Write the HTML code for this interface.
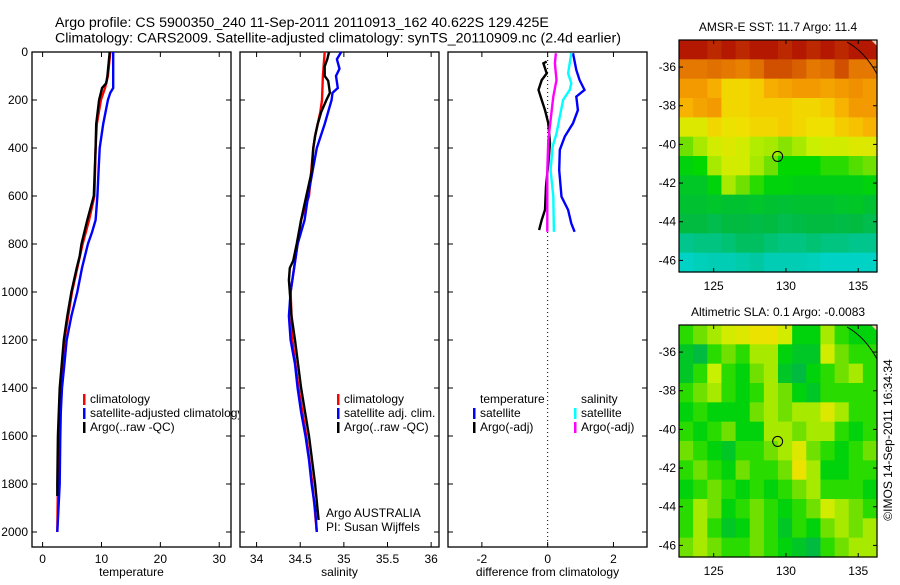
<!DOCTYPE html>
<html><head><meta charset="utf-8"><style>
body{margin:0;background:#fff}
svg text{font-family:"Liberation Sans",sans-serif;fill:#000}
</style></head><body>
<svg id="fig" width="900" height="580" xmlns="http://www.w3.org/2000/svg">
<defs><clipPath id="clipP1"><rect x="0" y="0" width="239" height="580"/></clipPath></defs>
<text x="55" y="27" font-size="14.2">Argo profile: CS 5900350_240 11-Sep-2011 20110913_162 40.622S 129.425E</text>
<text x="55" y="42.5" font-size="14.2">Climatology: CARS2009. Satellite-adjusted climatology: synTS_20110909.nc (2.4d earlier)</text>
<g id="maps"></g>
<g id="panels"></g>
<text transform="translate(892,440) rotate(-90)" text-anchor="middle" font-size="12">©IMOS 14-Sep-2011 16:34:34</text>
</svg>
<script>
// ---------- data ----------
const tempBlueD=[0,150,170,200,300,400,500,600,700,750,800,900,1000,1100,1200,1300,1400,1500,1600,1800,2000];
const tempBlueV=[12.0,12.0,11.5,11.1,10.3,9.7,9.5,9.3,9.0,8.4,7.7,6.7,5.9,4.9,4.1,3.7,3.3,3.1,3.0,2.9,2.5];
const tempRedD=[0,100,150,200,300,400,500,600,700,800,900,1000,1200,1400,1600,1800,2000];
const tempRedV=[11.5,11.1,10.6,9.9,9.2,9.0,8.9,8.8,7.9,6.8,5.9,5.0,3.7,3.0,2.7,2.6,2.5];
const tempBlackD=[0,100,130,150,200,300,400,600,700,800,850,900,1000,1100,1200,1400,1600,1800,1850];
const tempBlackV=[11.4,11.0,10.8,10.1,9.6,9.1,9.0,8.7,7.6,6.6,6.3,5.8,4.9,4.2,3.6,2.9,2.6,2.5,2.5];

const salBlueD=[0,30,70,100,150,170,200,300,400,500,600,700,800,900,1000,1100,1200,1300,1400,1500,1600,1700,1800,1900,2000];
const salBlueV=[34.97,34.92,34.95,34.91,34.93,34.87,34.86,34.78,34.69,34.64,34.59,34.55,34.47,34.43,34.39,34.37,34.39,34.44,34.47,34.51,34.56,34.60,34.63,34.67,34.69];
const salRedD=[0,100,200,250,350,400,600,700,800,900,1000,1200,1400,1600,1800,2000];
const salRedV=[34.78,34.76,34.75,34.73,34.67,34.65,34.60,34.51,34.47,34.43,34.39,34.41,34.48,34.57,34.64,34.69];
const salBlackD=[0,30,60,100,120,170,200,250,300,350,400,500,600,700,800,870,900,950,1000,1100,1200,1400,1600,1800,1950];
const salBlackV=[34.83,34.81,34.78,34.78,34.82,34.84,34.80,34.74,34.70,34.67,34.65,34.63,34.57,34.51,34.46,34.42,34.38,34.37,34.38,34.40,34.44,34.51,34.60,34.67,34.71];

const diffTSatD=[5,75,117,158,186,242,297,352,408,492,603,658,714,749];
const diffTSatV=[0.77,0.87,0.97,1.12,0.87,0.92,0.77,0.52,0.37,0.35,0.42,0.62,0.72,0.82];
const diffSSatD=[5,47,89,130,158,200,269,339,394,492,603,749];
const diffSSatV=[0.72,0.67,0.62,0.72,0.67,0.47,0.37,0.27,0.15,0.09,0.17,0.19];
const diffTArgoD=[40,47,89,117,158,200,242,297,381,464,561,658,700,742];
const diffTArgoV=[-0.03,-0.13,-0.03,-0.18,-0.28,-0.18,-0.08,0.02,0.07,0.02,-0.05,-0.08,-0.18,-0.26];
const diffSArgoD=[5,47,117,186,269,367,492,603,749];
const diffSArgoV=[0.25,0.22,0.27,0.17,0.10,0.02,-0.01,-0.01,-0.01];

const depthTicks=[0,200,400,600,800,1000,1200,1400,1600,1800,2000];
const tempTicks=[0,10,20,30];
const salTicks=[34,34.5,35,35.5,36];
const diffTicks=[-2,0,2];
const latTicks=[-36,-38,-40,-42,-44,-46];
const lonTicks=[125,130,135];

const sstGrid=[
[0.97,0.97,0.95,0.97,0.95,0.97,0.97,0.95,0.97,0.95,0.97,0.95,0.97,0.97],
[0.85,0.85,0.86,0.85,0.84,0.86,0.9,0.9,0.88,0.85,0.86,0.9,0.85,0.85],
[0.8,0.8,0.76,0.68,0.68,0.7,0.76,0.78,0.8,0.8,0.78,0.8,0.82,0.8],
[0.75,0.78,0.8,0.68,0.68,0.7,0.7,0.7,0.68,0.68,0.7,0.75,0.8,0.8],
[0.62,0.62,0.68,0.65,0.66,0.68,0.68,0.7,0.68,0.66,0.66,0.7,0.72,0.75],
[0.5,0.55,0.6,0.62,0.6,0.56,0.55,0.52,0.55,0.58,0.6,0.6,0.62,0.62],
[0.4,0.42,0.55,0.6,0.6,0.55,0.5,0.42,0.42,0.42,0.45,0.45,0.48,0.5],
[0.35,0.35,0.4,0.55,0.5,0.45,0.4,0.4,0.38,0.38,0.38,0.38,0.38,0.4],
[0.33,0.33,0.34,0.33,0.33,0.34,0.33,0.32,0.33,0.33,0.33,0.34,0.35,0.33],
[0.3,0.3,0.28,0.3,0.3,0.29,0.3,0.28,0.29,0.3,0.3,0.29,0.3,0.28],
[0.18,0.2,0.2,0.22,0.25,0.25,0.22,0.2,0.2,0.22,0.2,0.2,0.18,0.18],
[0.05,0.08,0.1,0.1,0.12,0.15,0.1,0.1,0.1,0.08,0.05,0.05,0.05,0.05]];
const slaGrid=[
[0.45,0.5,0.55,0.6,0.62,0.65,0.65,0.6,0.4,0.4,0.55,0.45,0.4,0.4],
[0.35,0.3,0.45,0.5,0.45,0.55,0.55,0.4,0.35,0.35,0.6,0.5,0.45,0.45],
[0.35,0.45,0.58,0.45,0.4,0.5,0.55,0.35,0.3,0.4,0.45,0.5,0.55,0.45],
[0.45,0.5,0.55,0.45,0.4,0.45,0.55,0.5,0.4,0.35,0.45,0.45,0.45,0.45],
[0.4,0.45,0.4,0.4,0.4,0.5,0.55,0.5,0.55,0.55,0.62,0.55,0.45,0.45],
[0.45,0.4,0.45,0.5,0.4,0.4,0.55,0.55,0.5,0.55,0.55,0.45,0.4,0.45],
[0.5,0.45,0.4,0.35,0.45,0.45,0.5,0.55,0.62,0.5,0.45,0.4,0.45,0.5],
[0.45,0.5,0.45,0.4,0.5,0.45,0.45,0.5,0.65,0.55,0.4,0.4,0.45,0.45],
[0.4,0.45,0.5,0.45,0.4,0.45,0.4,0.45,0.5,0.55,0.45,0.45,0.45,0.4],
[0.45,0.55,0.5,0.4,0.45,0.5,0.45,0.4,0.45,0.5,0.6,0.55,0.5,0.45],
[0.45,0.55,0.45,0.35,0.4,0.5,0.45,0.35,0.45,0.4,0.5,0.55,0.5,0.55],
[0.5,0.55,0.5,0.45,0.45,0.5,0.45,0.4,0.35,0.3,0.45,0.5,0.55,0.55]];
const argoLon=129.425, argoLat=-40.622;

// ---------- helpers ----------
const NS="http://www.w3.org/2000/svg";
function mk(tag,attrs,parent){const e=document.createElementNS(NS,tag);for(const k in attrs)e.setAttribute(k,attrs[k]);parent.appendChild(e);return e;}
const panelsG=document.getElementById('panels');
const mapsG=document.getElementById('maps');
const PT=52,PB=547;
const yDepth=d=>52+0.24*d;

function panel(name,x0,x1,xmin,xmax,ticks,label,showY){
  const g=mk('g',{},panelsG);
  
  
  const sx=v=>x0+(v-xmin)/(xmax-xmin)*(x1-x0);
  const fr=mk('rect',{x:x0,y:PT,width:x1-x0,height:PB-PT,fill:'none',stroke:'#000','stroke-width':1.3},g);
  
  
  ticks.forEach(t=>{const x=sx(t);
    mk('line',{x1:x,y1:PB,x2:x,y2:PB-5,stroke:'#000'},g);
    mk('line',{x1:x,y1:PT,x2:x,y2:PT+5,stroke:'#000'},g);
    const tl=mk('text',{x:x,y:PB+16,'text-anchor':'middle','font-size':12},g);tl.textContent=t;
    
    
  });
  depthTicks.forEach(d=>{const y=yDepth(d);
    mk('line',{x1:x0,y1:y,x2:x0+5,y2:y,stroke:'#000'},g);
    mk('line',{x1:x1,y1:y,x2:x1-5,y2:y,stroke:'#000'},g);
    if(showY){const tl=mk('text',{x:x0-4,y:y+4,'text-anchor':'end','font-size':12},g);tl.textContent=d;
      
      }
  });
  const xl=mk('text',{x:(x0+x1)/2,y:PB+29,'text-anchor':'middle','font-size':12},g);xl.textContent=label;
  
  
  return {g,sx};
}
function series(p,name,D,V,color){
  let d='';D.forEach((dd,i)=>{d+=(i?'L':'M')+p.sx(V[i]).toFixed(1)+' '+yDepth(dd).toFixed(1);});
  const e=mk('path',{d:d,fill:'none',stroke:color,'stroke-width':2.4,'stroke-linejoin':'miter'},p.g);
  
  
}
function legend(p,x,y,items,clip){
  const lg=mk('g',clip?{'clip-path':'url(#'+clip+')'}:{},p.g);
  
  
  items.forEach((it,i)=>{
    const yy=y+i*14;
    if(it[1]) mk('rect',{x:x,y:yy-9,width:2.5,height:11,fill:it[1]},lg);
    const t=mk('text',{x:x+7,y:yy,'font-size':12},lg);t.textContent=it[0];
    
    
  });
}

// ---------- panels ----------
const p1=panel('temperature-panel',32,231,-1.8,32,tempTicks,'temperature',true);
series(p1,'temp-climatology-line',tempRedD,tempRedV,'#ff0000');
series(p1,'temp-satellite-line',tempBlueD,tempBlueV,'#0000ff');
series(p1,'temp-argo-line',tempBlackD,tempBlackV,'#000000');
legend(p1,83,403,[['climatology','#ff0000'],['satellite-adjusted climatology','#0000ff'],['Argo(..raw -QC)','#000']],'clipP1');

const p2=panel('salinity-panel',240,439,33.81,36.09,salTicks,'salinity',false);
series(p2,'sal-climatology-line',salRedD,salRedV,'#ff0000');
series(p2,'sal-satellite-line',salBlueD,salBlueV,'#0000ff');
series(p2,'sal-argo-line',salBlackD,salBlackV,'#000000');
legend(p2,337,403,[['climatology','#ff0000'],['satellite adj. clim.','#0000ff'],['Argo(..raw -QC)','#000']]);
let t=mk('text',{x:326,y:517,'font-size':12},p2.g);t.textContent='Argo AUSTRALIA';


t=mk('text',{x:326,y:531,'font-size':12},p2.g);t.textContent='PI: Susan Wijffels';



const p3=panel('difference-panel',448,647,-3.03,3.02,diffTicks,'difference from climatology',false);
mk('line',{x1:p3.sx(0),y1:PT,x2:p3.sx(0),y2:PB,stroke:'#000','stroke-dasharray':'1,3'},p3.g);
series(p3,'diff-temp-satellite-line',diffTSatD,diffTSatV,'#0000ff');
series(p3,'diff-sal-satellite-line',diffSSatD,diffSSatV,'#00ffff');
series(p3,'diff-temp-argo-line',diffTArgoD,diffTArgoV,'#000000');
series(p3,'diff-sal-argo-line',diffSArgoD,diffSArgoV,'#ff00ff');
legend(p3,473,403,[['temperature',null],['satellite','#0000ff'],['Argo(-adj)','#000']]);
legend(p3,574,403,[['salinity',null],['satellite','#00ffff'],['Argo(-adj)','#ff00ff']]);

// ---------- maps ----------
const cmap=[[0,[0,216,216]],[0.15,[0,200,160]],[0.3,[0,187,64]],[0.42,[0,216,0]],[0.5,[112,224,0]],[0.58,[200,240,0]],[0.66,[240,224,0]],[0.74,[248,184,0]],[0.82,[240,144,0]],[0.9,[208,80,0]],[1,[168,0,0]]];
function col(v){for(let i=1;i<cmap.length;i++){if(v<=cmap[i][0]){const a=cmap[i-1],b=cmap[i];const f=(v-a[0])/(b[0]-a[0]);return 'rgb('+a[1].map((c,k)=>Math.round(c+(b[1][k]-c)*f)).join(',')+')';}}return 'rgb(168,0,0)';}
function map(name,top,grid,title){
  const g=mk('g',{},mapsG);
  
  
  const L=679,R=877,lonMin=122.6,lonMax=136.3,latTop=-34.6,latBot=-46.6;
  const sx=lon=>L+(lon-lonMin)/(lonMax-lonMin)*(R-L);
  const sy=lat=>top+(latTop-lat)/(latTop-latBot)*232;
  const rows=grid.length,cols=grid[0].length;
  grid.forEach((row,r)=>row.forEach((v,c)=>{
    const lo0=lonMin+c*(lonMax-lonMin)/cols,lo1=lonMin+(c+1)*(lonMax-lonMin)/cols;
    const la0=latTop-r*(latTop-latBot)/rows,la1=latTop-(r+1)*(latTop-latBot)/rows;
    const cell=mk('rect',{x:sx(lo0),y:sy(la0),width:sx(lo1)-sx(lo0)+0.6,height:sy(la1)-sy(la0)+0.6,fill:col(v)},g);
    
    
  }));
  mk('path',{d:`M${R-30} ${top+2} Q${R-12} ${top+12} ${R} ${top+34}`,fill:'none',stroke:'#000','stroke-width':1},g);
  mk('path',{d:`M${R-6} ${top} L${R} ${top} L${R} ${top+6}Z`,fill:'#f8d0b0'},g);
  mk('rect',{x:L,y:top,width:R-L,height:232,fill:'none',stroke:'#000','stroke-width':1.2},g);
  latTicks.forEach(la=>{const y=sy(la);
    mk('line',{x1:L,y1:y,x2:L+4,y2:y,stroke:'#000'},g);mk('line',{x1:R,y1:y,x2:R-4,y2:y,stroke:'#000'},g);
    const tl=mk('text',{x:L-3,y:y+4,'text-anchor':'end','font-size':12},g);tl.textContent=la;
    
    });
  lonTicks.forEach(lo=>{const x=sx(lo);
    mk('line',{x1:x,y1:top+232,x2:x,y2:top+228,stroke:'#000'},g);mk('line',{x1:x,y1:top,x2:x,y2:top+4,stroke:'#000'},g);
    const tl=mk('text',{x:x,y:top+250,'text-anchor':'middle','font-size':12},g);tl.textContent=lo;
    
    });
  const c=mk('circle',{cx:sx(argoLon),cy:sy(argoLat),r:5,fill:'none',stroke:'#000','stroke-width':1},g);
  
  
  const tt=mk('text',{x:778,y:top-9,'text-anchor':'middle','font-size':12},g);tt.textContent=title;
  
  
}
map('sst-map',40,sstGrid,'AMSR-E SST: 11.7 Argo: 11.4');
map('sla-map',325,slaGrid,'Altimetric SLA: 0.1 Argo: -0.0083');
</script>
</body></html>
